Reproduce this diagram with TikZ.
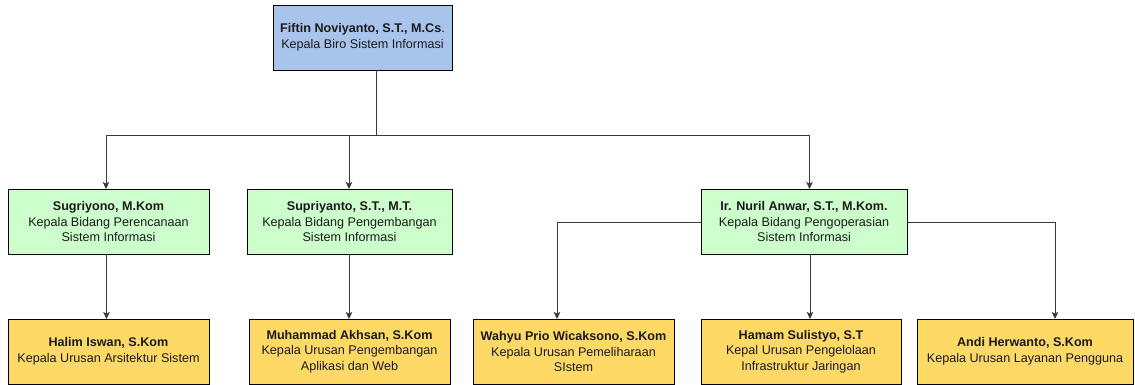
\documentclass[tikz,border=0pt]{standalone}
\usepackage{fontspec}
\setmainfont{Liberation Sans}
\usetikzlibrary{arrows.meta}
\definecolor{topblue}{HTML}{A9C4EB}
\definecolor{midgreen}{HTML}{CCFFCC}
\definecolor{lowyellow}{HTML}{FFD966}
\definecolor{conncol}{HTML}{3A3A3A}
\definecolor{txtcol}{HTML}{1A1A1A}
\begin{document}
\begin{tikzpicture}[x=1pt,y=-1pt,
  box/.style={draw=black, line width=0.9pt, inner sep=0pt, outer sep=0pt, align=center,
    minimum height=65pt, text=txtcol, font=\fontsize{12.6}{15.6}\selectfont},
  headbox/.style={box, fill=topblue},
  fieldbox/.style={box, fill=midgreen},
  unitbox/.style={box, fill=lowyellow},
  conn/.style={draw=conncol, line width=0.9pt},
  arr/.style={conn, -{Stealth[length=7pt,width=6.5pt,inset=1.5pt]}}]
\useasboundingbox (0,0) rectangle (1135,385);

\node[headbox, minimum width=179pt] (top) at (362.5,37.5)
  {\textbf{Fiftin Noviyanto, S.T., M.Cs}.\\Kepala Biro Sistem Informasi};

\node[fieldbox, minimum width=201pt] (b1) at (108.5,221.5)
  {\textbf{Sugriyono, M.Kom}\\Kepala Bidang Perencanaan\\Sistem Informasi};
\node[fieldbox, minimum width=205pt] (b2) at (349.5,221.5)
  {\textbf{Supriyanto, S.T., M.T.}\\Kepala Bidang Pengembangan\\Sistem Informasi};
\node[fieldbox, minimum width=206pt] (b3) at (804,221.5)
  {\textbf{Ir. Nuril Anwar, S.T., M.Kom.}\\Kepala Bidang Pengoperasian\\Sistem Informasi};

\node[unitbox, minimum width=201pt] (c1) at (108.5,351.5)
  {\textbf{Halim Iswan, S.Kom}\\Kepala Urusan Arsitektur Sistem};
\node[unitbox, minimum width=201pt] (c2) at (349.5,351.5)
  {\textbf{Muhammad Akhsan, S.Kom}\\Kepala Urusan Pengembangan\\Aplikasi dan Web};
\node[unitbox, minimum width=201pt] (c3) at (573.5,351.5)
  {\textbf{Wahyu Prio Wicaksono, S.Kom}\\Kepala Urusan Pemeliharaan\\SIstem};
\node[unitbox, minimum width=200pt] (c4) at (801,351.5)
  {\textbf{Hamam Sulistyo, S.T}\\Kepal Urusan Pengelolaan\\Infrastruktur Jaringan};
\node[unitbox, minimum width=216pt] (c5) at (1025,351.5)
  {\textbf{Andi Herwanto, S.Kom}\\Kepala Urusan Layanan Pengguna};

% top level connectors
\coordinate (bar) at (376,135);
\draw[conn] (top.south -| bar) -- (bar);
\draw[arr] (bar) -| ([xshift=-2.5pt]b1.north);
\draw[arr] (bar) -| ([xshift=-0.5pt]b2.north);
\draw[arr] (bar) -| ([xshift=5.5pt]b3.north);

% second level connectors
\coordinate (mturn) at (810,254);
\coordinate (lturn) at (557,222);
\coordinate (rturn) at (1055,222);
\draw[arr] ([xshift=-2pt]b1.south) -- ([xshift=-2pt]c1.north);
\draw[arr] ([xshift=-0.5pt]b2.south) -- ([xshift=-0.5pt]c2.north);
\draw[arr] (b3.south -| mturn) -- (c4.north -| mturn);
\draw[arr] (b3.west |- lturn) -- (lturn) -- (c3.north -| lturn);
\draw[arr] (b3.east |- rturn) -- (rturn) -- (c5.north -| rturn);
\end{tikzpicture}
\end{document}
